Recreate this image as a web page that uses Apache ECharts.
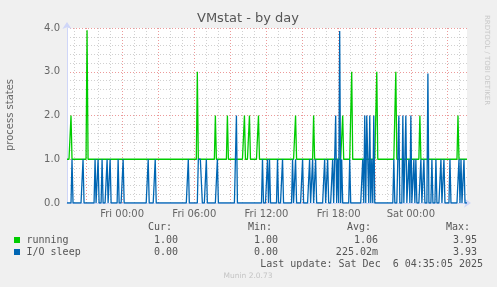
<!DOCTYPE html>
<html><head><meta charset="utf-8">
<script src="https://cdn.jsdelivr.net/npm/echarts@6/dist/echarts.min.js"></script>
<style>html,body{margin:0;padding:0;background:#F0F0F0}#c{width:497px;height:287px}</style>
</head><body><div id="c"></div>
<script>
// ---- data (5-minute samples, 400 per series) ----
const sampleCount = 400;
const startDay = 'Thu';
const startTime = '19:25';
const tickLabels = ['Fri 00:00', 'Fri 06:00', 'Fri 12:00', 'Fri 18:00', 'Sat 00:00'];
const seriesNames = ['running', 'I/O sleep'];
// running: baseline 1 with spikes [sampleIndex, value]
const runningBaseline = 1;
const runningSpikes = [[4,2],[20,3.95],[130,3],[148,2],[160,2],[177,2],[182,2],[191,2],[228,2],[246,2],[275,2],[284,3],[309,3],[328,3],[352,2],[390,2]];
// I/O sleep: baseline 0 with spikes [sampleIndex, value]
const ioBaseline = 0;
const ioSpikes = [[5,1],[16,1],[28,1],[31,1],[35,1],[40,1],[43,1],[51,1],[56,1],
  [81,1],[88,1],[121,1],[131,1],[132,1],[133,1],[134,1],[139,1],[150,1],[169,2],
  [195,1],[200,1],[202,1],[210,1],[215,1],[225,1],[228,1],[235,1],[242,1],[245,1],[248,1],
  [257,1],[260,1],[265,1],[267,1],[268,2],[270,1],[272,3.93],[274,1],[282,1],
  [295,1],[297,2],[299,2],[300,1],[302,2],[304,1],[306,2],
  [326,1],[331,2],[335,2],[338,2],[341,1],[343,2],[346,1],[348,1],[353,1],[356,1],[360,2.96],
  [364,1],[368,1],[373,1],[376,1],[382,1],[391,1],[393,1],[396,1]];
const legendHeaders = ['Cur:', 'Min:', 'Avg:', 'Max:'];
const runningStats = ['1.00', '1.00', '1.06', '3.95'];
const ioStats = ['0.00', '0.00', '225.02m', '3.93'];
const lastUpdate = 'Last update: Sat Dec  6 04:35:05 2025';

// ---- build categories & series arrays ----
const days = ['Sun','Mon','Tue','Wed','Thu','Fri','Sat'];
const startMin = days.indexOf(startDay) * 1440 + parseInt(startTime.slice(0,2)) * 60 + parseInt(startTime.slice(3));
const categories = [];
for (let i = 0; i < sampleCount; i++) {
  const t = startMin + i * 5;
  const d = Math.floor(t / 1440) % 7, m = t % 1440;
  categories.push(days[d] + ' ' + String(Math.floor(m/60)).padStart(2,'0') + ':' + String(m%60).padStart(2,'0'));
}
function expand(base, spikes) {
  const a = new Array(sampleCount).fill(base);
  spikes.forEach(([i, v]) => { a[i] = v; });
  return a;
}
const running = expand(runningBaseline, runningSpikes);
const ioSleep = expand(ioBaseline, ioSpikes);

function minuteOf(i) { const c = categories[i]; return parseInt(c.slice(4,6)) * 60 + parseInt(c.slice(7)); }
const isMajor = (i) => minuteOf(i) % 180 === 0;
const isMinor = (i) => minuteOf(i) % 60 === 0 && minuteOf(i) % 180 !== 0;

const FONT = 'DejaVu Sans';
const MONO = '10px "DejaVu Sans Mono"';
const TXT = '#555';
const AXIS = '#CFD6F8';
const green = '#00CC00', blue = '#0066B3';

const chart = echarts.init(document.getElementById('c'), null, {renderer: 'canvas'});
const gfx = [
  {type:'text', x:248, y:19, style:{text:'VMstat - by day', font:'13px "DejaVu Sans"', fill:'#555', textAlign:'center', textVerticalAlign:'middle'}},
  {type:'text', x:10, y:115, rotation:Math.PI/2, style:{text:'process states', font:'10px "DejaVu Sans"', fill:'#666', textAlign:'center', textVerticalAlign:'middle'}},
  {type:'text', x:487, y:60, rotation:-Math.PI/2, style:{text:'RRDTOOL / TOBI OETIKER', font:'7px "DejaVu Sans"', fill:'#C8C8C8', textAlign:'center', textVerticalAlign:'middle'}},
  {type:'rect', shape:{x:14, y:237, width:6, height:6}, style:{fill:green}},
  {type:'rect', shape:{x:14, y:249, width:6, height:6}, style:{fill:blue}},
  {type:'text', x:26.5, y:240, style:{text:seriesNames[0], font:MONO, fill:TXT, textVerticalAlign:'middle'}},
  {type:'text', x:26.5, y:252, style:{text:seriesNames[1], font:MONO, fill:TXT, textVerticalAlign:'middle'}},
  {type:'text', x:483, y:264, style:{text:lastUpdate, font:MONO, fill:TXT, textAlign:'right', textVerticalAlign:'middle'}},
  {type:'text', x:248, y:276, style:{text:'Munin 2.0.73', font:'7.5px "DejaVu Sans"', fill:'#C4C4C4', textAlign:'center', textVerticalAlign:'middle'}}
];
const headerRight = [172, 272, 371, 470];
const valueRight = [178, 278, 378, 477];
legendHeaders.forEach((h, k) => gfx.push({type:'text', x:headerRight[k], y:227, style:{text:h, font:MONO, fill:TXT, textAlign:'right', textVerticalAlign:'middle'}}));
runningStats.forEach((v, k) => gfx.push({type:'text', x:valueRight[k], y:240, style:{text:v, font:MONO, fill:TXT, textAlign:'right', textVerticalAlign:'middle'}}));
ioStats.forEach((v, k) => gfx.push({type:'text', x:valueRight[k], y:252, style:{text:v, font:MONO, fill:TXT, textAlign:'right', textVerticalAlign:'middle'}}));

chart.setOption({
  animation: false,
  backgroundColor: '#F0F0F0',
  grid: {left:67, top:28, width:400, height:175, show:true, backgroundColor:'#FFFFFF', borderWidth:0},
  xAxis: [
    {type:'category', data:categories, boundaryGap:false, position:'bottom',
     axisLine:{show:true, lineStyle:{color:AXIS, width:1}, symbol:['none','arrow'], symbolSize:[7,7], symbolOffset:[0,4]},
     axisTick:{show:false},
     axisLabel:{interval:(i, v) => tickLabels.indexOf(v) >= 0, color:'#666', fontSize:10, fontFamily:FONT, margin:6},
     splitLine:{show:true, interval:(i) => isMajor(i), lineStyle:{color:'rgba(230,120,120,0.75)', type:[1,2], width:1}}},
    {type:'category', data:categories, boundaryGap:false, position:'bottom',
     axisLine:{show:false}, axisTick:{show:false}, axisLabel:{show:false},
     splitLine:{show:true, interval:(i) => isMinor(i), lineStyle:{color:'#D0D0D0', type:[1,2], width:1}}}
  ],
  yAxis: {type:'value', min:0, max:4, interval:1,
    axisLine:{show:true, lineStyle:{color:AXIS, width:1}, symbol:['none','arrow'], symbolSize:[7,7], symbolOffset:[0,6]},
    axisTick:{show:false},
    axisLabel:{formatter:(v) => v.toFixed(1), color:'#666', fontSize:10, fontFamily:FONT, margin:7},
    splitLine:{show:true, lineStyle:{color:'rgba(230,120,120,0.75)', type:[1,2], width:1}},
    minorTick:{show:false, splitNumber:5},
    minorSplitLine:{show:true, lineStyle:{color:'#D0D0D0', type:[1,2], width:1}}},
  series: [
    {name:seriesNames[0], type:'line', data:running, xAxisIndex:0, showSymbol:false, symbol:'none', lineStyle:{color:green, width:1.3}, z:3},
    {name:seriesNames[1], type:'line', data:ioSleep, xAxisIndex:0, showSymbol:false, symbol:'none', lineStyle:{color:blue, width:1.3}, z:4}
  ],
  graphic: gfx
});
</script></body></html>
